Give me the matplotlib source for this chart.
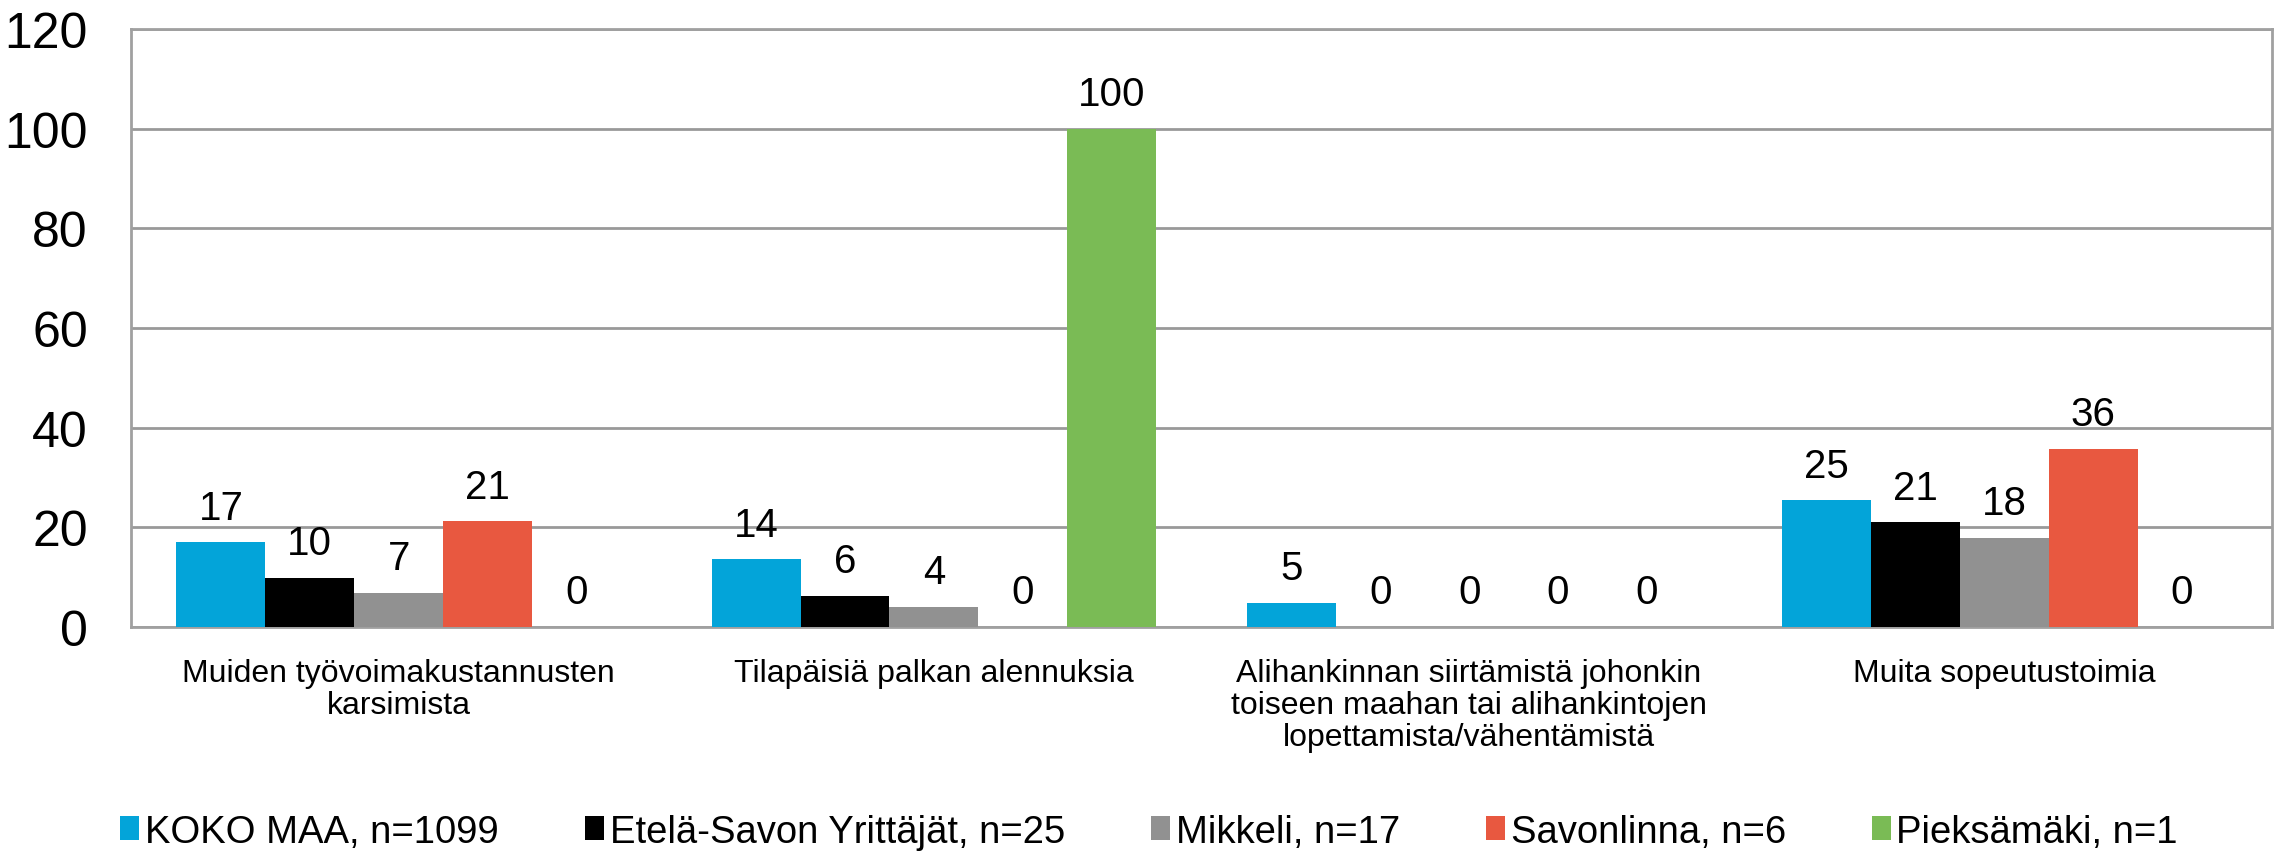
import matplotlib.pyplot as plt
import numpy as np

plt.rcParams['font.family'] = ['Liberation Sans', 'DejaVu Sans']

categories = ['Muiden työvoimakustannusten\nkarsimista',
              'Tilapäisiä palkan alennuksia',
              'Alihankinnan siirtämistä johonkin\ntoiseen maahan tai alihankintojen\nlopettamista/vähentämistä',
              'Muita sopeutustoimia']
series = ['KOKO MAA, n=1099', 'Etelä-Savon Yrittäjät, n=25', 'Mikkeli, n=17',
          'Savonlinna, n=6', 'Pieksämäki, n=1']
koko_maa = [17.0, 13.6, 4.9, 25.4]
etela_savo = [9.9, 6.3, 0, 21.0]
mikkeli = [6.9, 4.1, 0, 17.9]
savonlinna = [21.2, 0, 0, 35.7]
pieksamaki = [0, 100, 0, 0]
colors = ['#03A4D9', '#000000', '#919191', '#E85840', '#7ABB55']

values = [koko_maa, etela_savo, mikkeli, savonlinna, pieksamaki]

fig = plt.figure(figsize=(22.8, 8.53), dpi=100)
ax = fig.add_axes([131 / 2280, 1 - 628 / 853, (2272 - 131) / 2280, (628 - 30) / 853])

x = np.arange(len(categories))
w = 0.166
for i, (vals, name, c) in enumerate(zip(values, series, colors)):
    pos = x + (i - 2) * w
    ax.bar(pos, vals, width=w, color=c, label=name, zorder=3)
    for px, v in zip(pos, vals):
        ax.annotate('%.0f' % v, (px, v), xytext=(0, 25), textcoords='offset points',
                    ha='center', va='center', fontsize=29)

ax.set_xlim(-0.5, 3.5)
ax.set_ylim(0, 120)
ax.set_yticks(range(0, 121, 20))
ax.tick_params(axis='y', labelsize=36, length=0, pad=31)
ax.tick_params(axis='x', length=0, pad=22)
ax.set_xticks(x)
ax.set_xticklabels(categories, fontsize=23, linespacing=1.1, va='top')
ax.grid(axis='y', color='#999999', linewidth=2, zorder=0)
for s in ax.spines.values():
    s.set_color('#A0A0A0')
    s.set_linewidth(2)

fig.legend(loc='center', bbox_to_anchor=(0.504, 0.024), ncol=5, frameon=False,
           fontsize=27.5, handlelength=0.5, handleheight=0.6, handletextpad=0.15,
           columnspacing=2.25, borderpad=0, borderaxespad=0)

fig.savefig('out.png', dpi=100)
